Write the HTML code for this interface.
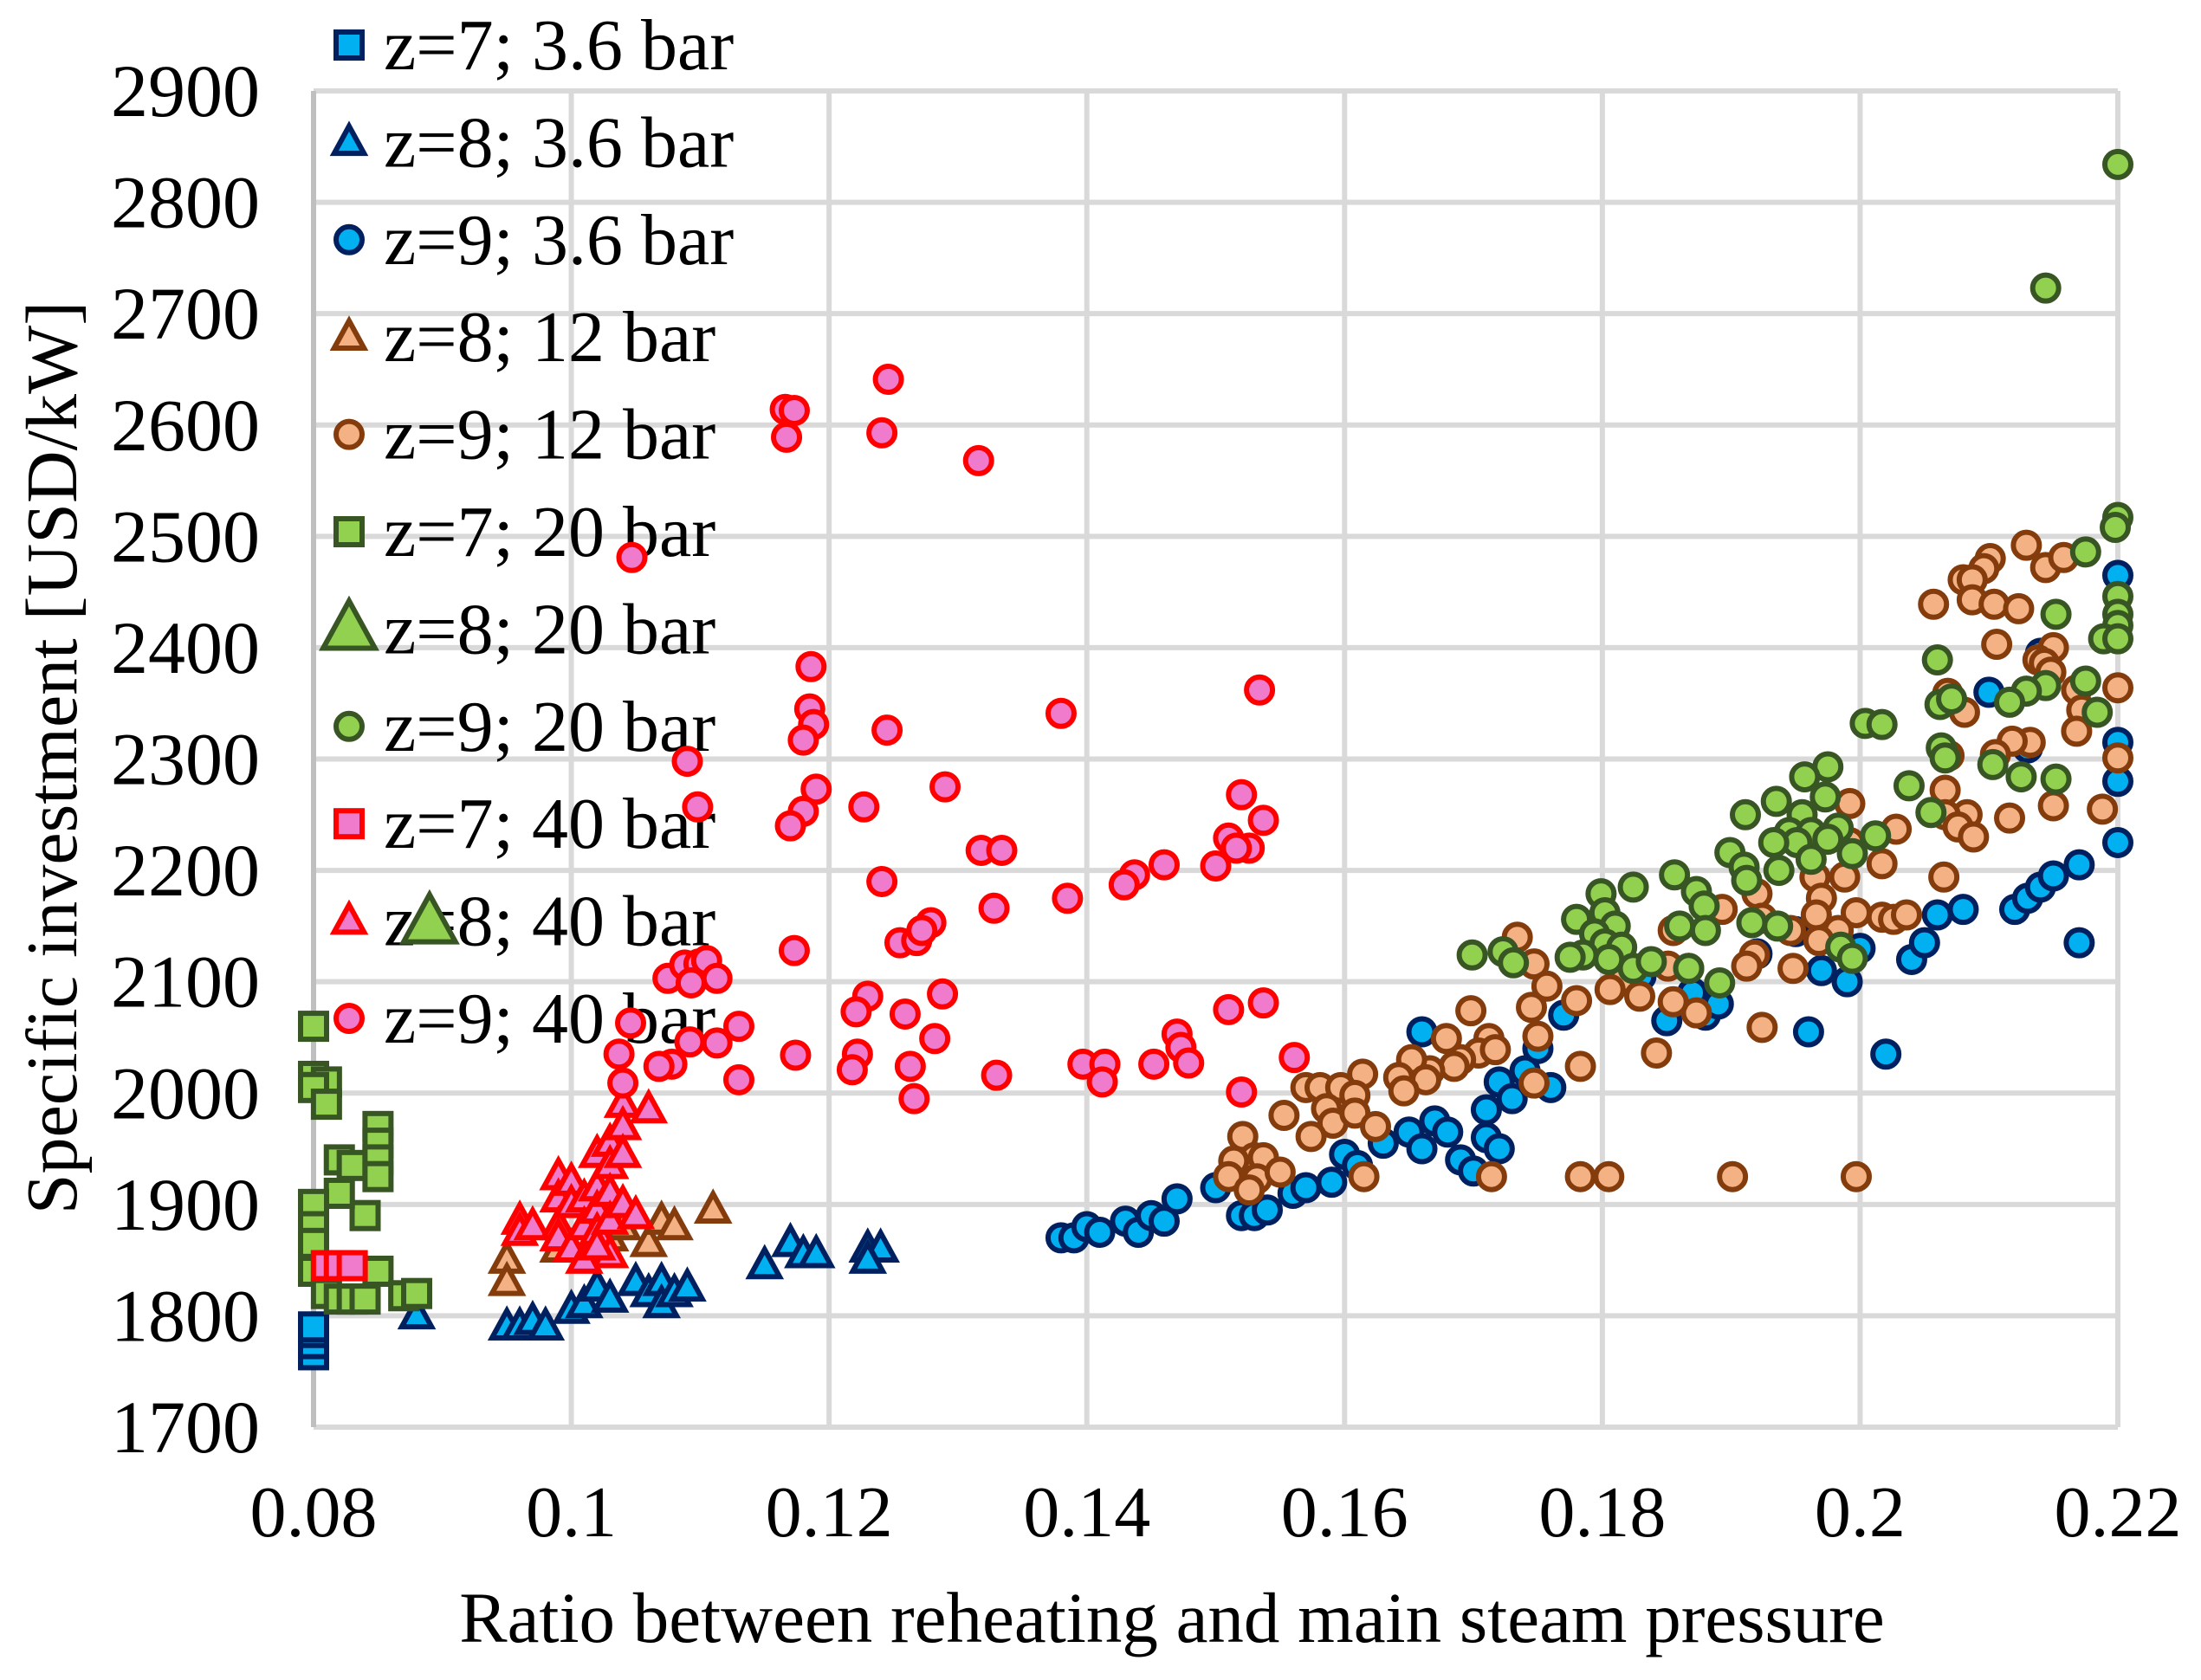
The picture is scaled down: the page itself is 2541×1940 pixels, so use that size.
<!DOCTYPE html>
<html><head><meta charset="utf-8"><style>
html,body{margin:0;padding:0;background:#fff}
svg{display:block}
text{font-family:"Liberation Serif",serif;fill:#000}
</style></head><body>
<svg id="chart" width="2541" height="1940" viewBox="0 0 2541 1940" xmlns="http://www.w3.org/2000/svg">
<g id="grid"></g>
<g id="ticks"></g>
<text x="0" y="0" font-size="84" text-anchor="middle" transform="translate(88,875) rotate(-90)">Specific investment [USD/kW]</text>
<text x="1353" y="1896" font-size="83" text-anchor="middle">Ratio between reheating and main steam pressure</text>
<g id="legend"></g>
<g id="marks"></g>
</svg>
<script>
const xTicks=[0.08,0.1,0.12,0.14,0.16,0.18,0.2,0.22];
const xTickLabels=["0.08","0.1","0.12","0.14","0.16","0.18","0.2","0.22"];
const yTicks=[1700,1800,1900,2000,2100,2200,2300,2400,2500,2600,2700,2800,2900];
const seriesNames=["z=7; 3.6 bar","z=8; 3.6 bar","z=9; 3.6 bar","z=8; 12 bar","z=9; 12 bar","z=7; 20 bar","z=8; 20 bar","z=9; 20 bar","z=7; 40 bar","z=8; 40 bar","z=9; 40 bar"];
const s1=[[0.08,1765],[0.08,1775],[0.08,1785],[0.08,1790]];
const s2=[[0.088,1800],[0.095,1790],[0.096,1790],[0.097,1795],[0.098,1790],[0.1,1805],[0.101,1810],[0.102,1825],[0.103,1815],[0.105,1830],[0.106,1820],[0.107,1830],[0.107,1810],[0.108,1820],[0.109,1825],[0.115,1845],[0.117,1865],[0.118,1855],[0.119,1855],[0.123,1860],[0.124,1860],[0.123,1850]];
const s3=[[0.138,1870],[0.139,1870],[0.14,1880],[0.141,1875],[0.143,1885],[0.144,1875],[0.145,1890],[0.146,1885],[0.147,1905],[0.15,1915],[0.152,1890],[0.153,1890],[0.154,1895],[0.156,1910],[0.157,1915],[0.159,1920],[0.16,1945],[0.161,1935],[0.163,1955],[0.165,1965],[0.166,1950],[0.167,1975],[0.168,1965],[0.169,1940],[0.17,1930],[0.171,1960],[0.171,1985],[0.172,1950],[0.172,2010],[0.173,1995],[0.174,2020],[0.175,2040],[0.176,2005],[0.177,2070],[0.166,2055],[0.183,2105],[0.185,2065],[0.187,2090],[0.188,2070],[0.189,2080],[0.192,2125],[0.195,2145],[0.196,2055],[0.197,2110],[0.199,2100],[0.2,2130],[0.202,2035],[0.204,2120],[0.205,2135],[0.206,2160],[0.208,2165],[0.21,2360],[0.212,2165],[0.213,2175],[0.214,2185],[0.215,2195],[0.217,2205],[0.217,2135],[0.22,2225],[0.22,2280],[0.22,2315],[0.22,2465],[0.214,2395],[0.213,2310]];
const s4=[[0.095,1850],[0.095,1830],[0.099,1860],[0.1,1860],[0.103,1870],[0.106,1865],[0.107,1885],[0.108,1880],[0.111,1895],[0.104,1880]];
const s5=[[0.2129,2492],[0.2144,2472],[0.2158,2481],[0.2101,2480],[0.2096,2471],[0.208,2461],[0.2087,2461],[0.2087,2443],[0.2057,2439],[0.2104,2439],[0.2123,2435],[0.2106,2403],[0.215,2400],[0.2138,2389],[0.2143,2386],[0.2148,2378],[0.2068,2359],[0.22,2364],[0.2168,2362],[0.2172,2344],[0.2081,2342],[0.2168,2325],[0.2132,2315],[0.2118,2316],[0.2105,2304],[0.22,2301],[0.2069,2303],[0.2066,2272],[0.215,2258],[0.2188,2255],[0.2083,2250],[0.2066,2250],[0.2076,2239],[0.2088,2230],[0.2116,2247],[0.1992,2260],[0.2028,2237],[0.1992,2225],[0.2017,2206],[0.1988,2194],[0.2065,2194],[0.1965,2194],[0.197,2175],[0.1966,2160],[0.1997,2162],[0.2017,2158],[0.2026,2156],[0.2036,2160],[0.1983,2146],[0.1946,2146],[0.1968,2137],[0.1948,2112],[0.192,2179],[0.1924,2157],[0.1918,2124],[0.1912,2114],[0.1893,2165],[0.1855,2146],[0.1851,2114],[0.1867,2112],[0.1873,2072],[0.1855,2082],[0.1924,2059],[0.1842,2036],[0.1817,2103],[0.1806,2093],[0.1829,2087],[0.178,2083],[0.1783,2024],[0.1734,2140],[0.1747,2116],[0.1757,2096],[0.1745,2077],[0.175,2051],[0.1747,2009],[0.1698,2074],[0.1712,2049],[0.1704,2036],[0.1717,2039],[0.169,2030],[0.1679,2049],[0.1685,2024],[0.1666,2020],[0.1652,2030],[0.1642,2014],[0.1663,2012],[0.1614,2017],[0.1646,2002],[0.157,2005],[0.1581,2005],[0.1597,2005],[0.1608,1998],[0.1586,1986],[0.1553,1980],[0.1591,1973],[0.1608,1982],[0.1624,1970],[0.1574,1961],[0.1521,1961],[0.153,1942],[0.1537,1942],[0.1514,1939],[0.151,1925],[0.1532,1923],[0.155,1929],[0.1526,1913],[0.1615,1925],[0.1714,1925],[0.1783,1925],[0.1805,1925],[0.1901,1925],[0.1997,1925]];
const s6=[[0.08,2060],[0.08,2015],[0.081,2010],[0.08,2005],[0.081,1990],[0.082,1940],[0.083,1935],[0.084,1890],[0.085,1970],[0.085,1955],[0.085,1940],[0.085,1925],[0.082,1910],[0.08,1900],[0.08,1880],[0.08,1865],[0.08,1840],[0.081,1845],[0.081,1820],[0.082,1815],[0.083,1815],[0.084,1815],[0.085,1840],[0.087,1818],[0.088,1820]];
const s7=[[0.089,2153]];
const s8=[[0.22,2834],[0.2144,2723],[0.22,2517],[0.2198,2508],[0.2175,2486],[0.22,2446],[0.22,2430],[0.2152,2430],[0.22,2420],[0.2189,2408],[0.22,2408],[0.206,2389],[0.2144,2366],[0.2175,2370],[0.2129,2361],[0.2116,2351],[0.2062,2349],[0.2071,2354],[0.2184,2342],[0.2004,2332],[0.2017,2331],[0.2063,2310],[0.2066,2301],[0.2103,2295],[0.1975,2293],[0.1957,2284],[0.2038,2276],[0.2125,2284],[0.2152,2282],[0.1935,2262],[0.1973,2266],[0.1911,2250],[0.1955,2250],[0.2055,2252],[0.1945,2234],[0.1962,2234],[0.1983,2238],[0.2012,2231],[0.1951,2225],[0.1975,2228],[0.1933,2225],[0.1899,2216],[0.1994,2215],[0.1962,2210],[0.191,2203],[0.1937,2200],[0.1912,2191],[0.1856,2196],[0.1873,2181],[0.1879,2168],[0.1799,2179],[0.1824,2185],[0.1802,2162],[0.181,2150],[0.178,2156],[0.1794,2143],[0.1802,2134],[0.1815,2131],[0.1785,2124],[0.1775,2122],[0.1805,2120],[0.186,2150],[0.188,2146],[0.1824,2112],[0.1838,2118],[0.1867,2112],[0.1891,2099],[0.1936,2150],[0.1985,2131],[0.1994,2121],[0.1723,2127],[0.1731,2117],[0.1699,2124],[0.1916,2153]];
const s9=[[0.081,1845],[0.082,1845],[0.083,1845]];
const s10=[[0.096,1885],[0.096,1875],[0.097,1880],[0.099,1925],[0.099,1905],[0.099,1880],[0.099,1870],[0.1,1920],[0.1,1900],[0.1,1860],[0.101,1905],[0.101,1880],[0.102,1945],[0.102,1915],[0.102,1895],[0.102,1875],[0.103,1955],[0.103,1935],[0.103,1910],[0.103,1885],[0.103,1855],[0.104,1990],[0.104,1970],[0.104,1945],[0.104,1900],[0.105,1890],[0.106,1985],[0.101,1850],[0.102,1862]];
const s11=[[0.1047,2481],[0.1246,2641],[0.1166,2614],[0.1173,2613],[0.1167,2589],[0.1241,2593],[0.1316,2568],[0.1186,2383],[0.1185,2345],[0.1188,2331],[0.118,2317],[0.1245,2326],[0.138,2341],[0.1534,2362],[0.109,2298],[0.119,2273],[0.129,2275],[0.118,2253],[0.1227,2257],[0.117,2240],[0.1098,2257],[0.152,2268],[0.1537,2245],[0.151,2229],[0.1526,2220],[0.1516,2220],[0.1318,2218],[0.1334,2218],[0.15,2204],[0.146,2205],[0.1437,2196],[0.1429,2187],[0.1241,2190],[0.1385,2175],[0.1328,2166],[0.1173,2128],[0.1255,2135],[0.1268,2137],[0.1279,2153],[0.1272,2146],[0.1075,2103],[0.1088,2115],[0.1099,2116],[0.1105,2119],[0.1113,2103],[0.1093,2099],[0.113,2060],[0.123,2087],[0.1221,2073],[0.1259,2071],[0.1288,2089],[0.151,2075],[0.1537,2081],[0.1046,2063],[0.1092,2046],[0.1113,2045],[0.1282,2049],[0.147,2053],[0.1473,2041],[0.1561,2032],[0.1037,2035],[0.1078,2026],[0.1068,2024],[0.1174,2034],[0.1222,2035],[0.1218,2021],[0.1263,2024],[0.1397,2026],[0.1414,2026],[0.1412,2010],[0.1452,2026],[0.1479,2027],[0.133,2016],[0.113,2012],[0.104,2009],[0.1266,1995],[0.152,2001]];

const NS="http://www.w3.org/2000/svg";
const X0=362,X1=2445,Y0=1648,Y1=105;
function X(v){return X0+(v-0.08)/0.14*(X1-X0);}
function Y(v){return Y0-(v-1700)/1200*(Y0-Y1);}
function mk(tag,attrs,parent){const e=document.createElementNS(NS,tag);for(const k in attrs)e.setAttribute(k,attrs[k]);parent.appendChild(e);return e;}
const grid=document.getElementById('grid'),ticks=document.getElementById('ticks');
yTicks.forEach(t=>{
  const l=mk('line',{x1:X0,x2:X1,y1:Y(t),y2:Y(t),stroke:'#d9d9d9','stroke-width':6},grid);
  
  
  const tx=mk('text',{x:300,y:Y(t)+29,'font-size':86,'text-anchor':'end'},ticks);
  tx.textContent=String(t);
  
  
});
xTicks.forEach((t,i)=>{
  const l=mk('line',{x1:X(t),x2:X(t),y1:Y0,y2:Y1,stroke:'#d9d9d9','stroke-width':6},grid);
  
  
  const tx=mk('text',{x:X(t),y:1774,'font-size':84,'text-anchor':'middle'},ticks);
  tx.textContent=xTickLabels[i];
  
  
});
const ax=mk('line',{x1:X0,x2:X0,y1:Y0,y2:Y1,stroke:'#bfbfbf','stroke-width':6},grid);



const styles=[
 ['sq','#00B0F0','#002060',15],['tri','#00B0F0','#002060',15],['ci','#00B0F0','#002060',15],
 ['tri','#F4B183','#843C0C',15],['ci','#F4B183','#843C0C',15],
 ['sq','#92D050','#375623',15],['tri','#92D050','#375623',26],['ci','#92D050','#375623',15],
 ['sq','#F07ACB','#FF0000',15],['tri','#F07ACB','#FF0000',15],['ci','#F07ACB','#FF0000',15]];
function marker(type,cx,cy,r,fill,stroke,parent){
  let e;
  if(type==='sq') e=mk('rect',{x:cx-r,y:cy-r,width:2*r,height:2*r,fill:fill,stroke:stroke,'stroke-width':6},parent);
  else if(type==='ci') e=mk('circle',{cx:cx,cy:cy,r:r,fill:fill,stroke:stroke,'stroke-width':6},parent);
  else e=mk('polygon',{points:`${cx},${cy-r*1.25} ${cx+r*1.15},${cy+r*0.85} ${cx-r*1.15},${cy+r*0.85}`,fill:fill,stroke:stroke,'stroke-width':6,'stroke-linejoin':'miter'},parent);
  return e;
}
const legend=document.getElementById('legend');
seriesNames.forEach((n,i)=>{
  const st=styles[i];const y=52+i*112.4;
  const g=mk('g',{},legend);
  
  
  marker(st[0],403,y,st[3],st[1],st[2],g);
  const t=mk('text',{x:443,y:y+28,'font-size':84},g);
  t.textContent=n;
});
const marks=document.getElementById('marks');
const all=[s1,s2,s3,s4,s5,s6,s7,s8,s9,s10,s11];
all.forEach((s,i)=>{
  const st=styles[i];
  const g=mk('g',{},marks);
  
  
  s.forEach(p=>{
    const m=marker(st[0],X(p[0]),Y(p[1]),st[3],st[1],st[2],g);
    
    
  });
});
</script>
</body></html>
